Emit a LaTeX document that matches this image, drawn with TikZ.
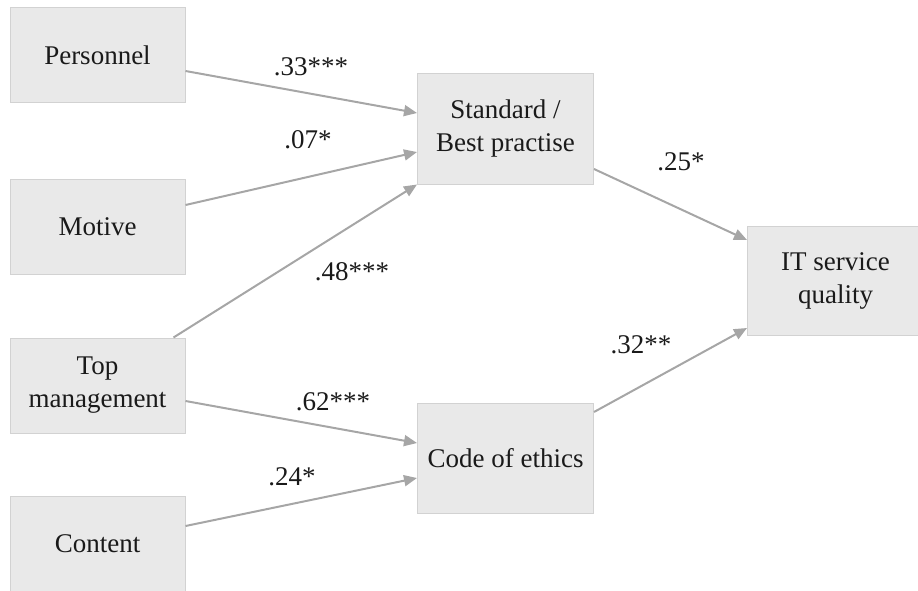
\documentclass[tikz,border=0pt]{standalone}
\usepackage{fontspec}
\setmainfont{Liberation Serif}
\usetikzlibrary{arrows.meta,calc}
\definecolor{boxfill}{HTML}{E9E9E9}
\definecolor{boxline}{HTML}{D2D2D2}
\definecolor{arrowgray}{HTML}{A6A6A6}
\definecolor{txt}{HTML}{1A1A1A}
\begin{document}
\begin{tikzpicture}[x=1pt,y=-1pt,
  varbox/.style={rectangle,draw=boxline,line width=1pt,fill=boxfill,text=txt,
    minimum width=175pt,minimum height=95pt,align=center,inner sep=0pt,
    font=\fontsize{27}{33}\selectfont},
  coef/.style={text=txt,inner sep=0pt,font=\fontsize{27}{33}\selectfont},
  path/.style={draw=arrowgray,line width=2pt,-{Triangle[length=13pt,width=11pt]}}]
\useasboundingbox (0,0) rectangle (918,591);
\clip (0,0) rectangle (918,591);
\node[varbox] (P) at (97.5,55.5) {Personnel};
\node[varbox] (M) at (97.5,227) {Motive};
\node[varbox] (T) at (97.5,385.5) {Top\\management};
\node[varbox] (C) at (97.5,544) {Content};
\node[varbox,minimum width=176pt,minimum height=110pt] (S) at (505.5,129) {Standard /\\Best practise};
\node[varbox,minimum width=176pt,minimum height=110pt] (E) at (505.5,458) {Code of ethics};
\node[varbox,minimum width=176pt,minimum height=109pt] (Q) at (835.5,280.5) {IT service\\quality};
\draw[path] ([yshift=-15.5pt]P.east) -- ([yshift=16pt]S.west);
\draw[path] ([yshift=22pt]M.east) -- ([yshift=-23pt]S.west);
\draw[path] ([xshift=-12pt]T.north east) -- (S.south west);
\draw[path] ([yshift=-15.5pt]T.east) -- ([yshift=15pt]E.west);
\draw[path] ([yshift=18pt]C.east) -- ([yshift=-20pt]E.west);
\draw[path] ([yshift=-40pt]S.east) -- ([yshift=40.5pt]Q.west);
\draw[path] ([yshift=46pt]E.east) -- ([yshift=-47.5pt]Q.west);
\node[coef] (l1) at (311,67) {.33***};
\node[coef] (l2) at (308,140) {.07*};
\node[coef] (l3) at (352,272) {.48***};
\node[coef] (l4) at (333,402) {.62***};
\node[coef] (l5) at (292,477) {.24*};
\node[coef] (l6) at (681,162) {.25*};
\node[coef] (l7) at (641,345) {.32**};
\end{tikzpicture}
\end{document}
